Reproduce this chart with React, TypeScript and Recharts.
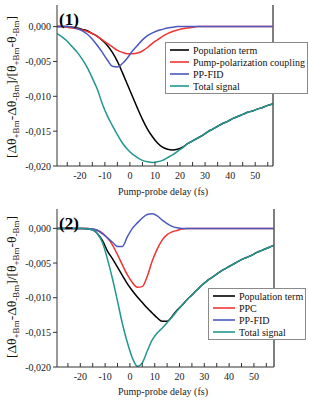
import { LineChart, Line, XAxis, YAxis, Legend, ReferenceLine } from "recharts";

// delay grid (fs)
const delays1 = [
  -29, -27, -25, -23, -21, -19, -17, -15, -13, -11, -9, -7, -5, -3, -1, 1, 3, 5, 7, 9, 11, 13,
  15, 17, 19, 21, 23, 25, 27, 29, 31, 33, 35, 37, 39, 41, 43, 45, 47, 49, 51, 53, 55, 57,
];
const population1 = [
  0, 0, 0, -0.0001, -0.0002, -0.0004, -0.0006, -0.001, -0.0014, -0.002, -0.0027, -0.0037, -0.005,
  -0.0066, -0.0083, -0.01, -0.0117, -0.0133, -0.0147, -0.0158, -0.0167, -0.0173, -0.0176, -0.0177,
  -0.0176, -0.0173, -0.0168, -0.0164, -0.016, -0.0156, -0.0151, -0.0147, -0.0143, -0.0139, -0.0136,
  -0.0132, -0.0129, -0.0126, -0.0123, -0.0121, -0.0118, -0.0116, -0.0113, -0.0111,
];
const coupling1 = [
  0, 0, -0.0001, -0.0002, -0.0003, -0.0005, -0.0007, -0.001, -0.0014, -0.0019, -0.0024, -0.0029,
  -0.0034, -0.0037, -0.0039, -0.0039, -0.0038, -0.0035, -0.003, -0.0024, -0.0019, -0.0014, -0.001,
  -0.0007, -0.0005, -0.0003, -0.0002, -0.0001, 0, 0, 0, 0, 0, 0, 0, 0, 0, 0, 0, 0, 0, 0, 0, 0,
];
const fid1 = [
  0, 0, 0, -0.0001, -0.0003, -0.0006, -0.0011, -0.0018, -0.0027, -0.0037, -0.0048, -0.0057, -0.0058,
  -0.0053, -0.0045, -0.0035, -0.0027, -0.0019, -0.0013, -0.0009, -0.0006, -0.0004, -0.0002, -0.0001,
  0, 0, 0, 0, 0, 0, 0, 0, 0, 0, 0, 0, 0, 0, 0, 0, 0, 0, 0, 0,
];
const total1 = [
  -0.001, -0.0015, -0.0021, -0.0029, -0.0037, -0.0047, -0.0059, -0.0074, -0.009, -0.0111, -0.0128,
  -0.0142, -0.0155, -0.0167, -0.0176, -0.0183, -0.0188, -0.0192, -0.0194, -0.0195, -0.0194, -0.0192,
  -0.0188, -0.0184, -0.0179, -0.0174, -0.0168, -0.0164, -0.016, -0.0156, -0.0151, -0.0147, -0.0143,
  -0.0139, -0.0136, -0.0132, -0.0129, -0.0126, -0.0123, -0.0121, -0.0118, -0.0116, -0.0113, -0.0111,
];

const delays2 = [
  -31, -29, -27, -25, -23, -21, -19, -17, -15, -13, -11, -9, -7, -5, -3, -1, 1, 3, 5, 7, 9, 11, 13,
  15, 17, 19, 21, 23, 25, 27, 29, 31, 33, 35, 37, 39, 41, 43, 45, 47, 49, 51, 53, 55, 57, 59,
];
const population2 = [
  0, 0, 0, 0, 0, 0, 0, -0.0001, -0.0002, -0.0008, -0.0018, -0.0033, -0.0044, -0.0056, -0.0068,
  -0.008, -0.009, -0.0099, -0.0107, -0.0115, -0.0122, -0.0129, -0.0134, -0.0134, -0.0127, -0.0118,
  -0.0111, -0.0103, -0.0096, -0.0089, -0.0082, -0.0076, -0.0071, -0.0066, -0.0061, -0.0057, -0.0053,
  -0.0049, -0.0045, -0.0042, -0.0039, -0.0035, -0.0032, -0.0029, -0.0026, -0.0023,
];
const coupling2 = [
  0, 0, 0, 0, 0, 0, 0, 0, -0.0001, -0.0003, -0.0007, -0.0014, -0.0024, -0.0038, -0.0053, -0.0067,
  -0.0078, -0.0085, -0.0084, -0.0069, -0.0047, -0.003, -0.0017, -0.0009, -0.0005, -0.0003, -0.0001,
  0, 0, 0, 0, 0, 0, 0, 0, 0, 0, 0, 0, 0, 0, 0, 0, 0, 0, 0,
];
const fid2 = [
  0, 0, 0, 0, 0, 0, 0, 0, -0.0001, -0.0003, -0.0008, -0.0014, -0.002, -0.0026, -0.0026, -0.0012, 0,
  0.0008, 0.0015, 0.002, 0.0021, 0.0018, 0.0012, 0.0007, 0.0003, 0.0001, 0, 0, 0, 0, 0, 0, 0, 0, 0,
  0, 0, 0, 0, 0, 0, 0, 0, 0, 0, 0,
];
const total2 = [
  0, 0, 0, 0, 0, 0, 0, -0.0001, -0.0002, -0.0008, -0.0021, -0.0045, -0.0073, -0.0105, -0.0138,
  -0.0165, -0.0187, -0.0199, -0.0194, -0.0177, -0.0161, -0.0151, -0.0144, -0.0136, -0.0128, -0.0119,
  -0.0111, -0.0103, -0.0096, -0.0089, -0.0082, -0.0076, -0.0071, -0.0066, -0.0061, -0.0057, -0.0053,
  -0.0049, -0.0045, -0.0042, -0.0039, -0.0035, -0.0032, -0.0029, -0.0026, -0.0023,
];

const xTicks = [-25, -20, -15, -10, -5, 0, 5, 10, 15, 20, 25, 30, 35, 40, 45, 50, 55];
const yTicks = [0, -0.005, -0.01, -0.015, -0.02];

const COLORS = { pop: "#000000", ppc: "#f03434", fid: "#4a58c0", total: "#23968f" };
const FONT = "'Liberation Serif', 'Times New Roman', serif";

const rows1 = delays1.map((d, i) => ({
  d,
  pop: population1[i],
  ppc: coupling1[i],
  fid: fid1[i],
  total: total1[i],
}));
const rows2 = delays2.map((d, i) => ({
  d,
  pop: population2[i],
  ppc: coupling2[i],
  fid: fid2[i],
  total: total2[i],
}));

const fmtY = (v: number) => (v === 0 ? "0,000" : v.toFixed(3).replace(".", ","));
const fmtX = (v: number) => (v % 10 === 0 ? String(v) : "");

function makeLegend(names: string[], lineLen: number, rowH: number) {
  return (props: any) => {
    const items = [...(props.payload || [])].sort(
      (a: any, b: any) => names.indexOf(a.value) - names.indexOf(b.value)
    );
    return (
      <div
        style={{
          border: "1px solid #8a8a8a",
          background: "#fff",
          padding: "1px 2px 1px 4px",
          fontFamily: FONT,
          fontSize: 10,
          color: "#111",
        }}
      >
        {items.map((p: any) => (
          <div key={p.value} style={{ display: "flex", alignItems: "center", height: rowH, whiteSpace: "nowrap" }}>
            <svg width={lineLen + 2} height={4} style={{ marginRight: 2 }}>
              <line x1={0} y1={2} x2={lineLen} y2={2} stroke={p.color} strokeWidth={1.6} />
            </svg>
            <span>{p.value}</span>
          </div>
        ))}
      </div>
    );
  };
}

function YLabel({ cy }: { cy: number }) {
  const sub = { fontSize: 9, baselineShift: "-30%" } as any;
  return (
    <text
      transform={`translate(16, ${cy}) rotate(-90)`}
      textAnchor="middle"
      fontFamily={FONT}
      fontSize={13.5}
      fill="#111"
    >
      [Δθ<tspan style={sub}>+Bm</tspan>-Δθ<tspan style={sub}>-Bm</tspan>]/[θ<tspan style={sub}>+Bm</tspan>-θ
      <tspan style={sub}>-Bm</tspan>]
    </text>
  );
}

type PanelProps = {
  rows: any[];
  names: string[];
  xDomain: [number, number];
  yDomain: [number, number];
  height: number;
  marginTop: number;
  marginBottom: number;
  marginRight: number;
  legendPos: { left: number; top: number };
  legendLine: number;
  tag: string;
  labelCy: number;
  xLabelY: number;
};

function Panel(p: PanelProps) {
  const keys = ["pop", "ppc", "fid", "total"] as const;
  return (
    <div style={{ position: "relative", width: 309, height: p.height }}>
      <LineChart
        width={309}
        height={p.height}
        data={p.rows}
        margin={{ top: p.marginTop, right: p.marginRight, left: 12, bottom: p.marginBottom }}
      >
        <XAxis
          dataKey="d"
          type="number"
          domain={p.xDomain}
          allowDataOverflow
          ticks={xTicks}
          tickFormatter={fmtX}
          tickSize={-4}
          tickMargin={10}
          height={30}
          stroke="#333"
          tick={{ fontFamily: FONT, fontSize: 10, fill: "#222" }}
        />
        <XAxis
          xAxisId="top"
          orientation="top"
          type="number"
          domain={p.xDomain}
          allowDataOverflow
          ticks={xTicks}
          tick={false}
          tickSize={-4}
          height={0}
          stroke="#333"
        />
        <YAxis
          type="number"
          domain={p.yDomain}
          allowDataOverflow
          ticks={yTicks}
          tickFormatter={fmtY}
          tickSize={4}
          tickMargin={2}
          width={45}
          stroke="#333"
          tick={{ fontFamily: FONT, fontSize: 10, fill: "#222" }}
        />
        <ReferenceLine x={p.xDomain[1]} stroke="#555" strokeWidth={1.5} />
        {keys.map((k, i) => (
          <Line
            key={k}
            type="monotone"
            dataKey={k}
            name={p.names[i]}
            stroke={COLORS[k]}
            strokeWidth={1.5}
            dot={false}
            isAnimationActive={false}
          />
        ))}
        <Legend
          layout="vertical"
          align="center"
          verticalAlign="middle"
          content={makeLegend(p.names, p.legendLine, 12)}
          wrapperStyle={{ left: p.legendPos.left, top: p.legendPos.top, width: "auto" }}
        />
      </LineChart>
      <svg
        width={309}
        height={p.height}
        style={{ position: "absolute", left: 0, top: 0, pointerEvents: "none" }}
      >
        <YLabel cy={p.labelCy} />
        <text x={59} y={p.marginTop + 20} fontFamily={FONT} fontSize={17} fontWeight="bold" fill="#000">
          {p.tag}
        </text>
        <text x={163} y={p.xLabelY} textAnchor="middle" fontFamily={FONT} fontSize={10} fill="#222">
          Pump-probe delay (fs)
        </text>
      </svg>
    </div>
  );
}

export default function App() {
  return (
    <div style={{ position: "absolute", left: 0, top: 0, width: 309, height: 403, background: "#fff" }}>
      <Panel
        rows={rows1}
        names={["Population term", "Pump-polarization coupling", "PP-FID", "Total signal"]}
        xDomain={[-29.1, 57.1]}
        yDomain={[-0.02, 0.0031]}
        height={200}
        marginTop={5}
        marginBottom={4}
        marginRight={36}
        legendPos={{ left: 165, top: 42 }}
        legendLine={19}
        tag="(1)"
        labelCy={87}
        xLabelY={195}
      />
      <Panel
        rows={rows2}
        names={["Population term", "PPC", "PP-FID", "Total signal"]}
        xDomain={[-29.4, 58.1]}
        yDomain={[-0.02, 0.0028]}
        height={203}
        marginTop={9}
        marginBottom={6}
        marginRight={35}
        legendPos={{ left: 208, top: 88 }}
        legendLine={22}
        tag="(2)"
        labelCy={87}
        xLabelY={195}
      />
    </div>
  );
}
